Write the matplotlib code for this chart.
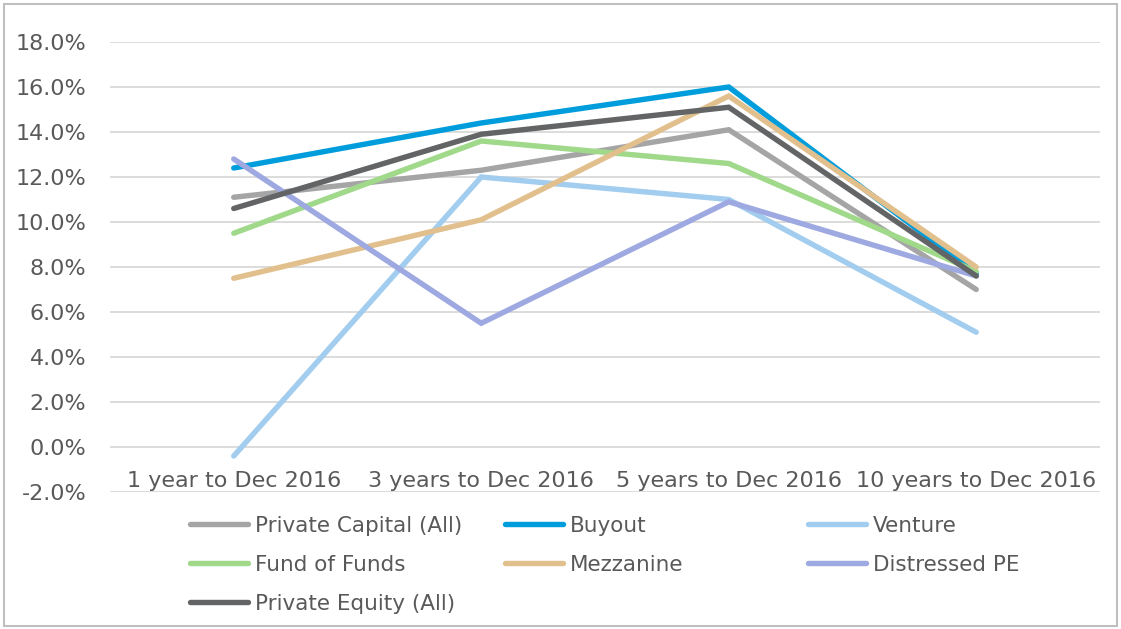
import numpy as np
import matplotlib
matplotlib.use("Agg")
import matplotlib.pyplot as plt
from matplotlib.patches import Rectangle
from matplotlib.ticker import FuncFormatter

# Horizons on the x axis
periods = ["1 year to Dec 2016", "3 years to Dec 2016",
           "5 years to Dec 2016", "10 years to Dec 2016"]

# Returns in percent
private_capital = [11.1, 12.3, 14.1, 7.0]
buyout = [12.4, 14.4, 16.0, 7.7]
venture = [-0.4, 12.0, 11.0, 5.1]
fund_of_funds = [9.5, 13.6, 12.6, 7.8]
mezzanine = [7.5, 10.1, 15.6, 8.0]
distressed_pe = [12.8, 5.5, 10.9, 7.6]
private_equity = [10.6, 13.9, 15.1, 7.6]

series_names = ["Private Capital (All)", "Buyout", "Venture", "Fund of Funds",
                "Mezzanine", "Distressed PE", "Private Equity (All)"]
series_values = [private_capital, buyout, venture, fund_of_funds,
                 mezzanine, distressed_pe, private_equity]
series_colors = ["#A5A5A5", "#009DDC", "#A2CDEF", "#A0D98A",
                 "#E2C08D", "#9DA9E0", "#626466"]

text_color = "#595959"
plt.rcParams['font.family'] = ['DejaVu Sans']

fig = plt.figure(figsize=(11.21, 6.29), dpi=100)
W, H = 1121, 629
ax = fig.add_axes([110 / W, 1 - 492 / H, 990 / W, 450 / H])

x = np.arange(len(periods))
lines = []
for name, vals, col in zip(series_names, series_values, series_colors):
    ln, = ax.plot(x, vals, color=col, lw=3.9, solid_capstyle='round',
                  solid_joinstyle='miter', label=name)
    lines.append(ln)

ax.set_xlim(-0.5, len(periods) - 0.5)
ax.set_ylim(-2, 18)
ax.set_yticks(np.arange(-2, 18.1, 2))
ax.yaxis.set_major_formatter(FuncFormatter(lambda v, p: "%.1f%%" % v))
ax.set_xticks(x)
ax.set_xticklabels(periods)

ax.grid(axis='y', color='#D9D9D9', lw=1.3)
ax.set_axisbelow(True)
for s in ['left', 'right', 'top']:
    ax.spines[s].set_visible(False)
# category labels sit next to the zero line, like excel does
ax.spines['bottom'].set_position(('data', 0))
ax.spines['bottom'].set_visible(False)
ax.tick_params(axis='both', length=0, labelsize=16, colors=text_color)
ax.tick_params(axis='y', pad=17)
ax.tick_params(axis='x', pad=17)

# legend as three columns with even spacing
col_x = [190 / W, 505 / W, 808 / W]
col_items = [[0, 3, 6], [1, 4], [2, 5]]
for cx, items in zip(col_x, col_items):
    leg = fig.legend([lines[i] for i in items], [series_names[i] for i in items],
                     loc='upper left', bbox_to_anchor=(cx, 1 - 516 / H),
                     frameon=False, fontsize=15.5, handlelength=2.7,
                     handletextpad=0.3, labelspacing=0.88, borderpad=0,
                     borderaxespad=0)
    for t in leg.get_texts():
        t.set_color(text_color)

# chart border
fig.patches.append(Rectangle((4 / W, 3 / H), 1113 / W, 622 / H,
                             transform=fig.transFigure, fill=False,
                             edgecolor='#BFBFBF', lw=1.5))

fig.savefig("out.png", dpi=100)
